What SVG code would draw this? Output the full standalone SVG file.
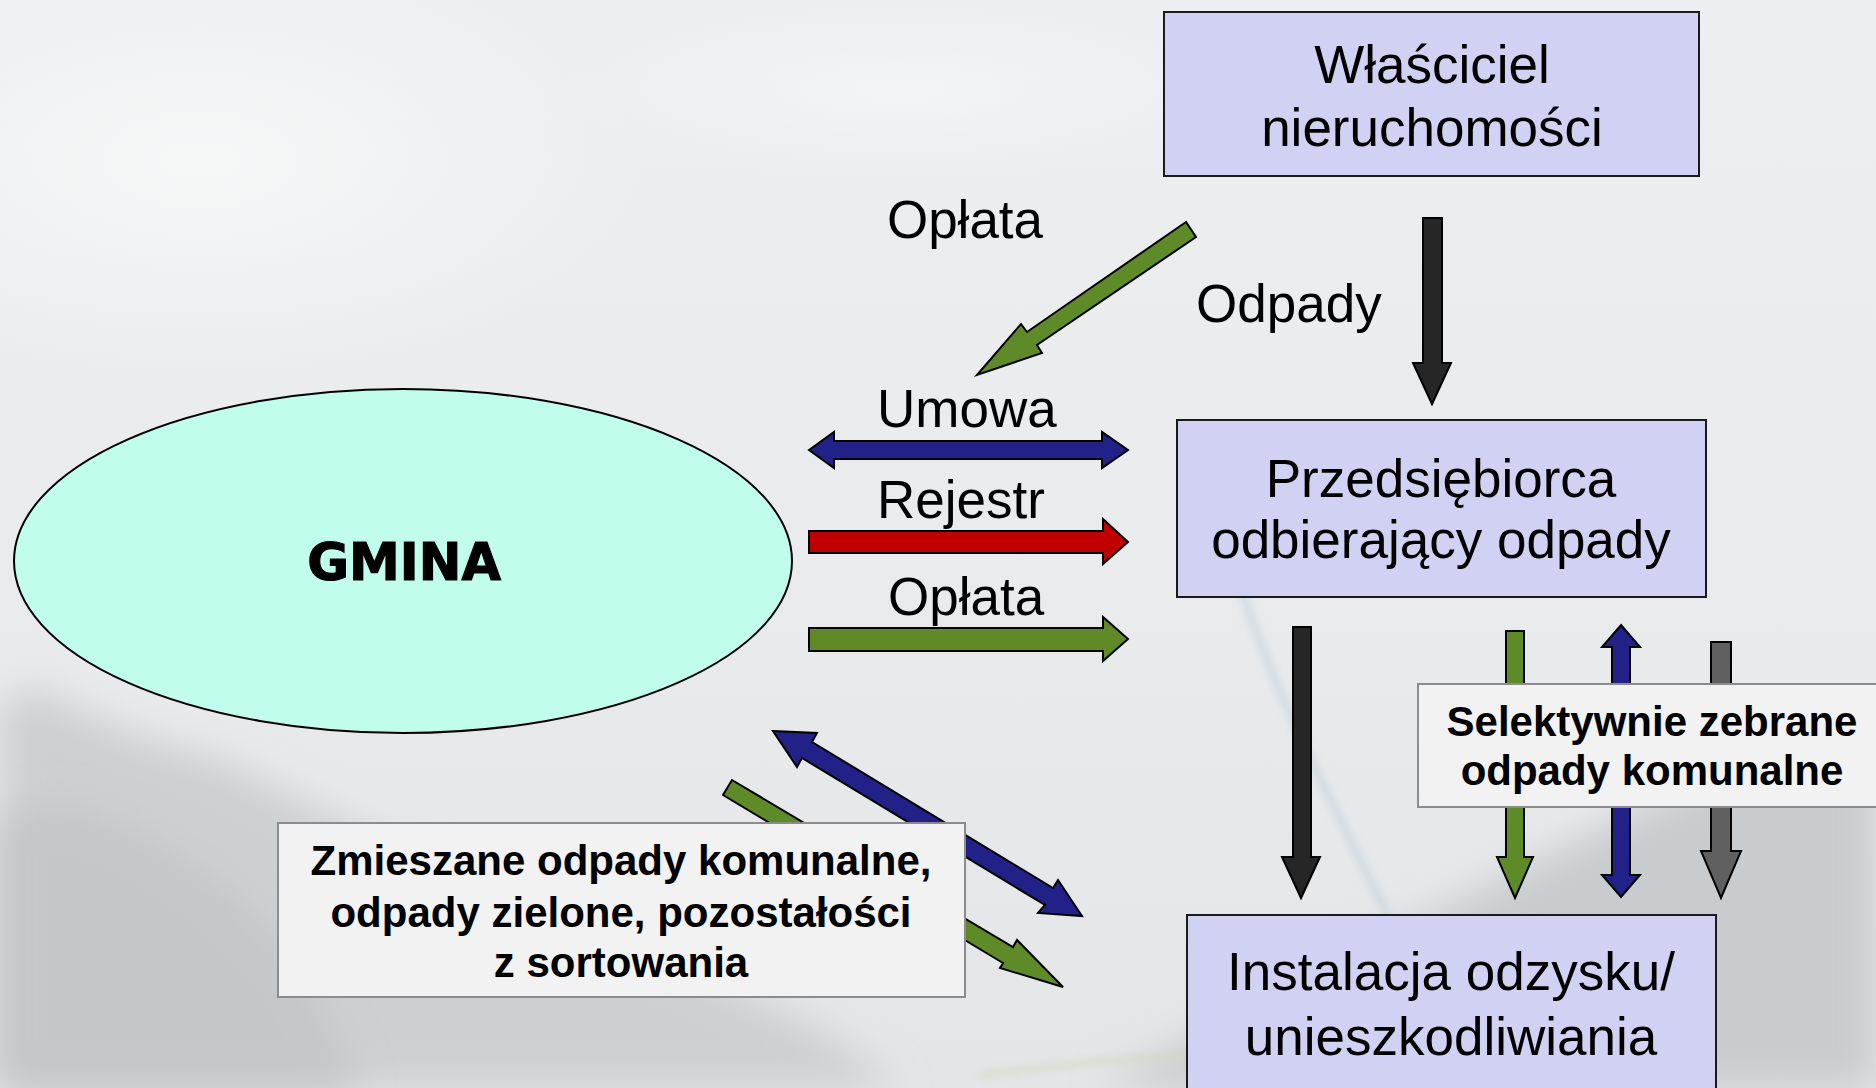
<svg xmlns="http://www.w3.org/2000/svg" width="1876" height="1088" viewBox="0 0 1876 1088">
<defs>
<linearGradient id="sky" x1="0" y1="0" x2="0" y2="1">
<stop offset="0" stop-color="#eceef0"/>
<stop offset="0.5" stop-color="#e9ebed"/>
<stop offset="1" stop-color="#e3e5e7"/>
</linearGradient>
<radialGradient id="glow" cx="0.5" cy="0.5" r="0.5">
<stop offset="0" stop-color="#f6f7f7" stop-opacity="1"/>
<stop offset="1" stop-color="#f6f7f7" stop-opacity="0"/>
</radialGradient>
<filter id="blur" x="-50%" y="-50%" width="200%" height="200%"><feGaussianBlur stdDeviation="18"/></filter>
<filter id="blur2" x="-50%" y="-50%" width="200%" height="200%"><feGaussianBlur stdDeviation="4"/></filter>
<style>
.box{fill:#d1d1f3;stroke:#1a1a1a;stroke-width:2}
.lbl{fill:#f2f2f2;stroke:#8c8c8c;stroke-width:2}
.t{font-family:"Liberation Sans",Arial,sans-serif;font-size:53px;fill:#000}
.b{font-family:"Liberation Sans",Arial,sans-serif;font-size:42px;font-weight:bold;fill:#000;text-anchor:middle}
.m{text-anchor:middle}
.arr{stroke:#000;stroke-width:2;stroke-linejoin:miter}
</style>
</defs>
<g id="background">
<rect x="0" y="0" width="1876" height="1088" fill="url(#sky)"/>
<ellipse cx="200" cy="160" rx="450" ry="220" fill="url(#glow)"/>
<ellipse cx="900" cy="90" rx="350" ry="90" fill="url(#glow)" opacity="0.7"/>
<path d="M0,700 L40,690 L90,715 L150,740 L220,760 L300,800 L380,840 L480,880 L600,930 L720,980 L820,1030 L900,1088 L0,1088 Z" fill="#cdd0d1" filter="url(#blur)"/>
<path d="M0,820 L60,800 L140,830 L220,880 L300,960 L360,1088 L0,1088 Z" fill="#c3c7c9" filter="url(#blur)"/>
<path d="M1100,1088 L1300,980 L1500,880 L1700,780 L1876,720 L1876,1088 Z" fill="#c9ccce" filter="url(#blur)"/>
<path d="M1240,585 C1270,680 1320,780 1380,900 C1410,960 1430,1010 1440,1050" fill="none" stroke="#c5d3dc" stroke-width="5" filter="url(#blur2)"/>
<path d="M980,1075 C1100,1060 1250,1048 1400,1040" fill="none" stroke="#cfd9b8" stroke-width="4" filter="url(#blur2)"/>
</g>
<g id="connectors">
<polygon class="arr" fill="#5f8a28" points="1186,222 1027,332 1021,324 977,375 1042,353 1037,345 1196,237"/>
<polygon class="arr" fill="#262626" points="1423,218 1442,218 1442,363 1451,363 1432,404 1413,363 1423,363"/>
<polygon class="arr" fill="#212188" points="809,450 834,432 834,441 1102,441 1102,432 1128,450 1102,468 1102,459 834,459 834,468"/>
<polygon class="arr" fill="#c00000" points="809,531 1103,531 1103,519 1128,542 1103,564 1103,553 809,553"/>
<polygon class="arr" fill="#5f8a28" points="809,628 1103,628 1103,617 1128,639 1103,661 1103,651 809,651"/>
<polygon class="arr" fill="#262626" points="1293,627 1311,627 1311,857 1320,857 1301,898 1282,857 1293,857"/>
<polygon class="arr" fill="#5f8a28" points="1506,631 1524,631 1524,857 1533,857 1515,898 1497,857 1506,857"/>
<polygon class="arr" fill="#212188" points="1621,625 1640,647 1630,647 1630,875 1640,875 1621,897 1602,875 1612,875 1612,647 1602,647"/>
<polygon class="arr" fill="#606060" points="1711,642 1731,642 1731,851 1741,851 1721,898 1701,851 1711,851"/>
<polygon class="arr" fill="#212188" points="773,731 817,733 812,742 1053,888 1058,880 1082,916 1038,913 1045,905 802,758 797,767"/>
<polygon class="arr" fill="#5f8a28" points="732,780 1013,947 1017,940 1063,987 1000,968 1003,963 723,795"/>
</g>
<g id="edge-labels">
<text class="t m" x="965" y="238">Opłata</text>
<text class="t" x="1196" y="322">Odpady</text>
<text class="t" x="877" y="427">Umowa</text>
<text class="t" x="877" y="518">Rejestr</text>
<text class="t" x="888" y="615">Opłata</text>
</g>
<g id="gmina">
<ellipse cx="403" cy="561" rx="389" ry="172" fill="#c0fded" stroke="#000" stroke-width="2"/>
<text x="404" y="580" text-anchor="middle" font-family="DejaVu Sans, sans-serif" font-weight="bold" font-size="51" stroke="#000" stroke-width="1.2" fill="#000">GMINA</text>
</g>
<g id="wlasciciel">
<rect class="box" x="1164" y="12" width="535" height="164"/>
<text class="t m" x="1432" y="83">Właściciel</text>
<text class="t m" x="1432" y="146">nieruchomości</text>
</g>
<g id="przedsiebiorca">
<rect class="box" x="1177" y="420" width="529" height="177"/>
<text class="t m" x="1441" y="497">Przedsiębiorca</text>
<text class="t m" x="1441" y="558">odbierający odpady</text>
</g>
<g id="instalacja">
<rect class="box" x="1187" y="915" width="529" height="200"/>
<text class="t m" x="1451" y="990">Instalacja odzysku/</text>
<text class="t m" x="1451" y="1055">unieszkodliwiania</text>
</g>
<g id="selektywnie">
<rect class="lbl" x="1418" y="684" width="470" height="123"/>
<text class="b" x="1652" y="736">Selektywnie zebrane</text>
<text class="b" x="1652" y="785">odpady komunalne</text>
</g>
<g id="zmieszane">
<rect class="lbl" x="278" y="823" width="687" height="174"/>
<text class="b" x="621" y="875">Zmieszane odpady komunalne,</text>
<text class="b" x="621" y="927">odpady zielone, pozostałości</text>
<text class="b" x="621" y="977">z sortowania</text>
</g>
</svg>
